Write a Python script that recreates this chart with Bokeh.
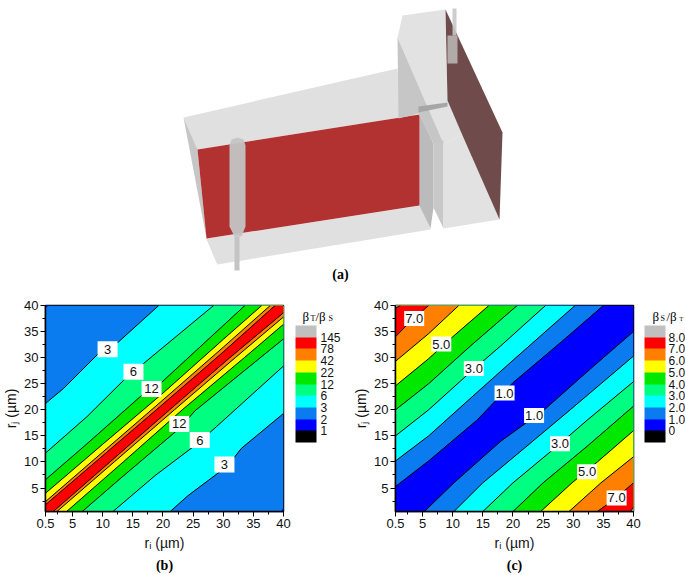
from bokeh.plotting import figure
from bokeh.layouts import column, row
from bokeh.models import AllLabels, ColorBar, FixedTicker, LinearColorMapper, Range1d, Title
from bokeh.core.properties import value
from bokeh.embed import file_html
from bokeh.resources import INLINE

SANS = "Liberation Sans"
SERIF = "Liberation Serif"

# ---- panel (a): sketch outlines
top_face_x = [183, 397, 400, 419, 197]
top_face_y = [117, 68, 113, 114, 149]
left_face_x = [183, 197, 206]
left_face_y = [117, 149, 238]
low_left_x = [206, 215, 217]
low_left_y = [238, 237, 264]
bottom_face_x = [206, 420, 430, 217]
bottom_face_y = [238, 205, 229, 264]
gap_face_x = [419, 433, 433, 430, 419]
gap_face_y = [114, 143, 207, 228, 205]
red_plane_x = [197, 419, 419, 206]
red_plane_y = [149, 114, 205, 238]
block_top_x = [402, 445, 447, 462, 443, 397]
block_top_y = [15, 9, 100, 135, 143, 37]
block_side_x = [397, 398, 418, 434, 443]
block_side_y = [37, 118, 113, 145, 143]
block_front_x = [443, 462, 499, 443]
block_front_y = [143, 135, 219, 228]
block_gap_x = [433, 443, 443, 433]
block_gap_y = [143, 140, 228, 207]
brown_plane_x = [445, 502, 499, 462, 447]
brown_plane_y = [9, 132, 219, 135, 100]
band_x = [418, 447, 447, 418]
band_y = [106, 102, 106, 112]
tube_x = [229, 231, 237, 243, 245, 245, 241, 234, 229]
tube_y = [145, 139, 137, 139, 145, 226, 236, 236, 226]
stem_x = [234, 239, 239, 234]
stem_y = [236, 236, 270, 270]
small_tube_x = [447, 457, 457, 447]
small_tube_y = [35, 35, 63, 63]
small_stem_x = [452, 456, 456, 452]
small_stem_y = [8, 8, 35, 35]

# ---- shared axes
tick_values = [0.5, 5, 10, 15, 20, 25, 30, 35, 40]
y_tick_values = [5, 10, 15, 20, 25, 30, 35, 40]
minor_values = [2.5, 7.5, 12.5, 17.5, 22.5, 27.5, 32.5, 37.5]
band_colors = ["#000000", "#0000ff", "#0a7cf0", "#00ffff", "#00ff80",
               "#00e800", "#ffff00", "#ff8000", "#ff0000", "#c0c0c0"]

# ---- panel (b): contour lines above the diagonal (ri, rj)
b_levels = ["1", "2", "3", "6", "12", "22", "42", "78", "145"]
b_line_2 = ([0.5, 1.2], [39.6, 40])
b_line_3 = ([0.5, 3.5, 9.3, 12.6, 19.3], [21.2, 24.1, 30.8, 33, 40])
b_line_6 = ([0.5, 7.4, 13.5, 16.8, 28.4], [11.7, 18.7, 25.7, 28.9, 40])
b_line_12 = ([0.5, 7.1, 16.5, 19.8, 33.6], [6.6, 13.2, 22.8, 25.3, 40])
b_line_22 = ([0.5, 10, 20, 30, 36.4], [4.0, 13.4, 23.2, 33.5, 40])
b_line_42 = ([0.5, 10, 20, 30, 37.8], [2.4, 11.9, 21.9, 32, 40])
b_line_78 = ([0.5, 10, 20, 30, 38.6], [1.8, 11.2, 21.1, 31.1, 40])
b_lines = [b_line_3, b_line_6, b_line_12, b_line_22, b_line_42, b_line_78]
b_label_text = ["3", "6", "12", "12", "6", "3"]
b_label_x = [10.8, 15.1, 18.1, 22.7, 26.1, 30.2]
b_label_y = [31.6, 27.3, 24, 17.3, 14.2, 9.5]

# ---- panel (c): contour lines above the diagonal (ri, rj)
c_levels = ["0", "1.0", "2.0", "3.0", "4.0", "5.0", "6.0", "7.0", "8.0"]
c_line_1 = ([0.5, 6, 14, 20, 28, 35], [5.3, 10.2, 18, 25.2, 33, 40])
c_line_2 = ([0.5, 6, 14, 20, 30.3], [10.2, 15, 23.3, 29.5, 40])
c_line_3 = ([0.5, 6, 13, 18, 25.4], [15, 20, 27.3, 32.3, 40])
c_line_4 = ([0.5, 6, 13, 20.7], [20, 25, 32.3, 40])
c_line_5 = ([0.5, 6, 10, 16], [24.6, 29.8, 34, 40])
c_line_6 = ([0.5, 6, 11], [29.3, 34.6, 40])
c_line_7 = ([0.5, 3, 6], [34, 37, 40])
c_line_8 = ([0.5, 1.3], [39.5, 40])
c_lines = [c_line_1, c_line_2, c_line_3, c_line_4, c_line_5, c_line_6, c_line_7, c_line_8]
c_label_text = ["7.0", "5.0", "3.0", "1.0", "1.0", "3.0", "5.0", "7.0"]
c_label_x = [3.6, 8.1, 13.5, 18.6, 23.5, 27.8, 32.3, 37.2]
c_label_y = [37.5, 32.6, 27.9, 23.2, 18.9, 13.5, 8.1, 3.1]


def panel(frame_left, fig_width, tag):
    p = figure(width=fig_width, height=290, x_range=Range1d(0.5, 40), y_range=Range1d(0.5, 40),
               output_backend="svg", toolbar_location=None, min_border_left=frame_left,
               min_border_right=8, min_border_top=20, min_border_bottom=16,
               background_fill_color=None, border_fill_color=None)
    p.grid.visible = False
    p.outline_line_color = "#000000"
    p.outline_line_width = 1.5
    p.xaxis.ticker = FixedTicker(ticks=tick_values, minor_ticks=minor_values)
    p.yaxis.ticker = FixedTicker(ticks=y_tick_values, minor_ticks=minor_values)
    p.xaxis.major_label_overrides = {t: (str(t) if t == 0.5 else str(int(t))) for t in tick_values}
    p.yaxis.major_label_overrides = {t: str(int(t)) for t in y_tick_values}
    for ax in (p.xaxis[0], p.yaxis[0]):
        ax.axis_line_color = "#000000"
        ax.axis_line_width = 1.5
        ax.major_tick_in = 0
        ax.major_tick_out = 5
        ax.minor_tick_in = 0
        ax.minor_tick_out = 3
        ax.major_label_text_font = SANS
        ax.major_label_text_font_size = "13px"
        ax.major_label_text_color = "#111111"
        ax.major_label_standoff = 2
        ax.axis_label_text_font = SANS
        ax.axis_label_text_font_size = "14px"
        ax.axis_label_text_font_style = "normal"
        ax.axis_label_text_color = "#111111"
        ax.axis_label_standoff = 4
    p.yaxis[0].axis_label_standoff = 2
    p.xaxis.axis_label = "r\u1d62 (\u00b5m)"
    p.yaxis.axis_label = "r\u2c7c (\u00b5m)"
    p.add_layout(Title(text=tag, align="center", text_font=SERIF, text_font_size="14px",
                       text_font_style="bold", text_color="#000000", standoff=5), "below")
    return p


def legend_figure(x0, x1, labels, bar_x, standoff, pieces):
    """Legend strip in page pixels: its heading as text marks, then the colour bar."""
    f = figure(width=x1 - x0, height=290, x_range=Range1d(x0, x1), y_range=Range1d(575, 285),
               output_backend="svg", toolbar_location=None, min_border=0,
               background_fill_color=None, border_fill_color=None)
    f.axis.visible = False
    f.grid.visible = False
    f.outline_line_color = None
    for text, x, y, size in pieces:
        f.text([x], [y], text=[text], text_font=value(SERIF), text_font_size=f"{size}px",
               text_baseline="alphabetic", text_color="#000000")
    mapper = LinearColorMapper(palette=band_colors, low=0, high=10)
    ticks = list(range(1, 10))
    bar = ColorBar(color_mapper=mapper, ticker=FixedTicker(ticks=ticks),
                   major_label_overrides=dict(zip(ticks, labels)),
                   major_label_policy=AllLabels(),
                   width=21, height=117, padding=0, margin=0, location=(bar_x - x0, 69),
                   major_tick_line_color=None, minor_tick_line_color=None, bar_line_color=None,
                   major_label_text_font=SANS, major_label_text_font_size="12px",
                   major_label_text_color="#111111", label_standoff=standoff,
                   background_fill_color=None, border_line_color=None)
    f.add_layout(bar, "center")
    return f


def draw_bands_b(p):
    r0, r1 = 0.5, 40
    p.quad(left=[r0], right=[r1], bottom=[r0], top=[r1], fill_color=band_colors[2], line_color=None)
    xs, ys = b_line_2
    p.patch(xs + [r0], ys + [r1], fill_color=band_colors[1], line_color=None)
    p.patch(ys + [r1], xs + [r0], fill_color=band_colors[1], line_color=None)
    for i, (xs, ys) in enumerate(b_lines):
        px = xs + [r1] + ys[::-1] + [r0]
        py = ys + [r1] + xs[::-1] + [r0]
        p.patch(px, py, fill_color=band_colors[i + 3], line_color=None)
    for xs, ys in b_lines:
        p.line(xs, ys, line_color="#000000", line_width=1)
        p.line(ys, xs, line_color="#000000", line_width=1)


def draw_bands_c(p):
    r0, r1 = 0.5, 40
    p.quad(left=[r0], right=[r1], bottom=[r0], top=[r1], fill_color=band_colors[1], line_color=None)
    for i, (xs, ys) in enumerate(c_lines):
        p.patch(xs + [r0], ys + [r1], fill_color=band_colors[i + 2], line_color=None)
        p.patch(ys + [r1], xs + [r0], fill_color=band_colors[i + 2], line_color=None)
    for xs, ys in c_lines:
        p.line(xs, ys, line_color="#000000", line_width=1)
        p.line(ys, xs, line_color="#000000", line_width=1)


def boxes(p, xs, ys, texts, w, h):
    p.rect(xs, ys, width=w, height=h, width_units="screen", height_units="screen",
           fill_color="#ffffff", line_color=None)
    p.text(xs, ys, text=texts, text_align="center", text_baseline="middle",
           text_font=value(SANS), text_font_size="13px", text_color="#111111")


# ---- (a)
top = figure(width=685, height=285, x_range=Range1d(0, 685), y_range=Range1d(285, 0),
             output_backend="svg", toolbar_location=None, min_border=0,
             background_fill_color=None, border_fill_color=None)
top.axis.visible = False
top.grid.visible = False
top.outline_line_color = None
for xs, ys, col, a in [
    (top_face_x, top_face_y, "#e0e0e0", 1),
    (left_face_x, left_face_y, "#c6c6c6", 1),
    (low_left_x, low_left_y, "#cfcfcf", 1),
    (bottom_face_x, bottom_face_y, "#e0e0e0", 1),
    (gap_face_x, gap_face_y, "#bbbbbb", 1),
    (red_plane_x, red_plane_y, "#b23232", 1),
    (block_top_x, block_top_y, "#e2e2e2", 1),
    (block_side_x, block_side_y, "#c6c6c6", 1),
    (block_gap_x, block_gap_y, "#c8c8c8", 1),
    (block_front_x, block_front_y, "#e2e2e2", 1),
    (brown_plane_x, brown_plane_y, "#6f4b4b", 1),
    (band_x, band_y, "#a6a6a6", 1),
    (tube_x, tube_y, "#c4c4c4", 0.95),
    (stem_x, stem_y, "#c4c4c4", 1),
    (small_tube_x, small_tube_y, "#c8c8c8", 0.75),
    (small_stem_x, small_stem_y, "#c8c8c8", 0.9),
]:
    top.patch(xs, ys, fill_color=col, fill_alpha=a, line_color=None)
top.text([340], [274], text=["(a)"], text_align="center", text_baseline="middle",
         text_font=value(SERIF), text_font_style="bold", text_font_size="14px", text_color="#000000")

# ---- (b)
pb = panel(45, 291, "(b)")
draw_bands_b(pb)
boxes(pb, b_label_x, b_label_y, b_label_text, 20, 16)
lb = legend_figure(291, 345, b_levels, 295, 4,
                   [("\u03b2", 302, 300, 13), ("T", 310, 303, 8),
                    ("/\u03b2", 315, 300, 13), ("S", 328, 303, 8)])

# ---- (c)
pc = panel(50, 296, "(c)")
draw_bands_c(pc)
boxes(pc, c_label_x, c_label_y, c_label_text, 20, 15)
lc = legend_figure(641, 685, c_levels, 644, 3,
                   [("\u03b2", 652, 301, 13), ("S", 660, 304, 8),
                    ("/\u03b2", 666, 301, 13), ("T", 679, 304, 6)])

page = column(top, row(pb, lb, pc, lc, spacing=0), spacing=0)
open("out.html", "w").write(file_html(page, INLINE))
